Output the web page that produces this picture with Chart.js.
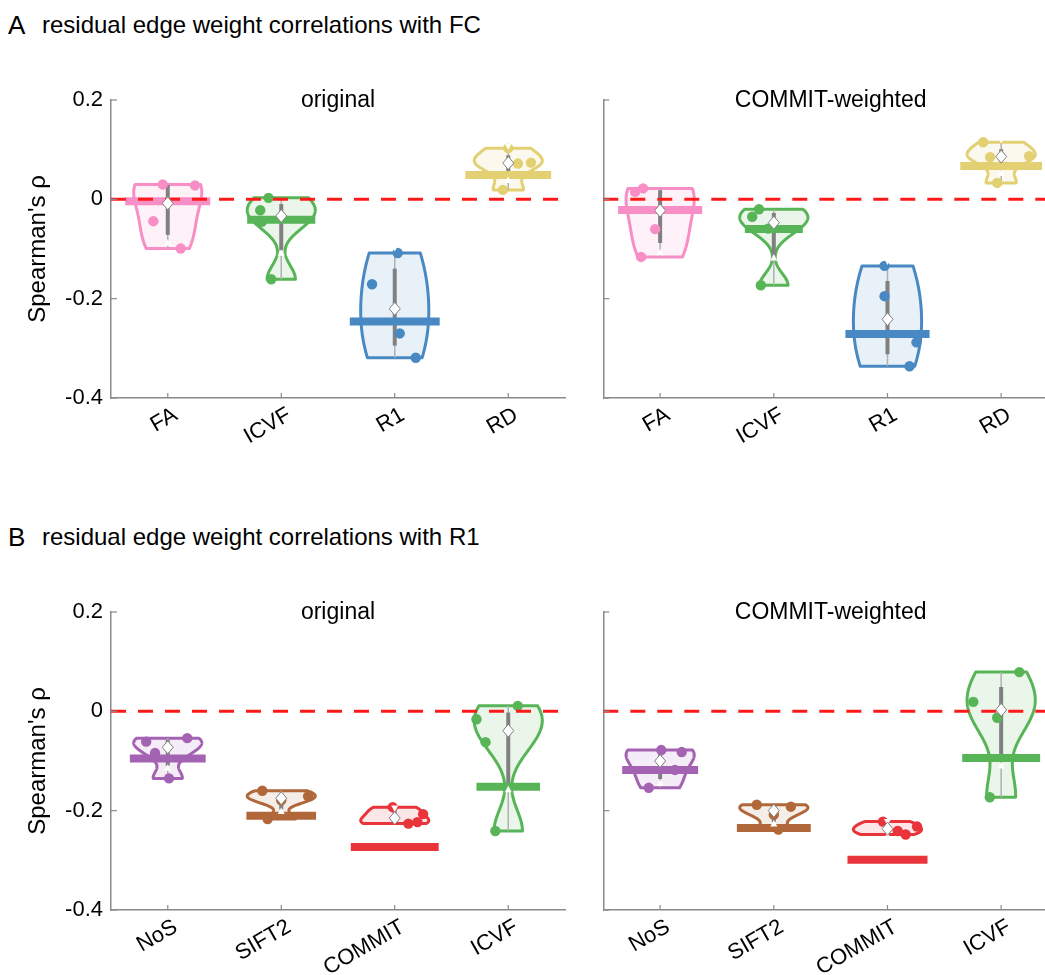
<!DOCTYPE html>
<html><head><meta charset="utf-8">
<script src="https://cdn.jsdelivr.net/npm/chart.js@4.4.1/dist/chart.umd.min.js"></script>
<style>
html,body{margin:0;padding:0;background:#fff;overflow:hidden;width:1045px;height:975px;position:relative;}
.box{position:absolute;}
.head{position:absolute;font-family:'Liberation Sans',Arial,sans-serif;color:#000;white-space:nowrap;line-height:1;}
</style></head><body>
<div class="head" style="left:8px;top:12px;font-size:26px">A</div>
<div class="head" style="left:42px;top:13px;font-size:24px">residual edge weight correlations with FC</div>
<div class="head" style="left:8px;top:524px;font-size:26px">B</div>
<div class="head" style="left:42px;top:525px;font-size:24px">residual edge weight correlations with R1</div>
<div class="box" style="left:0px;top:60px;width:590px;height:420px"><canvas id="A1"></canvas></div>
<div class="box" style="left:560px;top:60px;width:520px;height:420px"><canvas id="A2"></canvas></div>
<div class="box" style="left:0px;top:572px;width:590px;height:420px"><canvas id="B1"></canvas></div>
<div class="box" style="left:560px;top:572px;width:520px;height:420px"><canvas id="B2"></canvas></div>
<script>
// ---------------- data ----------------
const catsA = ['FA', 'ICVF', 'R1', 'RD'];
const catsB = ['NoS', 'SIFT2', 'COMMIT', 'ICVF'];
const yTicks = [-0.4, -0.2, 0, 0.2];
const panelTitles = ['original', 'COMMIT-weighted'];

// panel A, original
const A_orig_values = [[0.030, 0.028, -0.044, -0.099], [0.003, -0.022, -0.045, -0.161], [-0.108, -0.171, -0.270, -0.319], [0.103, 0.074, 0.072, 0.019]];
const A_orig_jitter = [[-0.044, 0.24, -0.127, 0.114], [-0.112, -0.185, -0.17, -0.088], [0.026, -0.2, 0.044, 0.185], [0, 0.2, 0.085, -0.047]];
const A_orig_ref = [-0.004, -0.041, -0.246, 0.049];
// panel A, COMMIT-weighted
const A_comm_values = [[0.022, 0.015, -0.060, -0.116], [-0.020, -0.035, -0.059, -0.173], [-0.134, -0.195, -0.288, -0.336], [0.115, 0.087, 0.085, 0.033]];
const A_comm_jitter = [[-0.15, -0.22, -0.044, -0.167], [-0.13, -0.19, -0.05, -0.114], [-0.026, -0.026, 0.255, 0.194], [-0.158, 0.246, -0.097, -0.035]];
const A_comm_ref = [-0.0215, -0.0595, -0.271, 0.067];
// panel B, original
const B_orig_values = [[-0.054, -0.061, -0.084, -0.135], [-0.160, -0.171, -0.179, -0.217], [-0.193, -0.207, -0.223, -0.226], [0.011, -0.016, -0.062, -0.241]];
const B_orig_jitter = [[0.172, -0.19, -0.112, 0.011], [-0.167, 0.237, 0, -0.12], [-0.018, 0.25, 0.2, 0.12], [0.084, -0.28, -0.2, -0.114]];
const B_orig_ref = [-0.095, -0.210, -0.273, -0.152];
// panel B, COMMIT-weighted
const B_comm_values = [[-0.078, -0.082, -0.118, -0.154], [-0.188, -0.192, -0.208, -0.238], [-0.222, -0.232, -0.241, -0.248], [0.079, 0.019, -0.013, -0.173]];
const B_comm_jitter = [[0.01, 0.19, 0.13, -0.1], [-0.15, 0.15, 0, 0.04], [-0.04, 0.26, 0.09, 0.16], [0.16, -0.245, -0.035, -0.1]];
const B_comm_ref = [-0.118, -0.235, -0.299, -0.094];

// ---------------- styles ----------------
const colorsA = ['#f78fc6', '#58b557', '#4889c4', '#e2d072'];
const colorsB = ['#a462b2', '#b0673a', '#e8343a', '#58b557'];
const A_orig_refSpan = [0.374, 0.30, 0.396, 0.378];
const A_comm_refSpan = [0.37, 0.255, 0.37, 0.36];
const B_orig_refSpan = [0.334, 0.307, 0.387, 0.28];
const B_comm_refSpan = [0.334, 0.325, 0.352, 0.343];
const FONT = "'Liberation Sans', Arial, sans-serif";
const AXIS_COLOR = '#8a8a8a';

// ---------------- statistics (violin = kernel density of the points) ----------------
function sorted(a) { return a.slice().sort((p, q) => p - q); }
function quant(s, p) {
  const n = s.length; const pos = p * n + 0.5;
  if (pos <= 1) return s[0]; if (pos >= n) return s[n - 1];
  const i = Math.floor(pos), f = pos - i; return s[i - 1] + (s[i] - s[i - 1]) * f;
}
function stats(vals) {
  const s = sorted(vals), n = s.length;
  const med = quant(s, 0.5), q1 = quant(s, 0.25), q3 = quant(s, 0.75), iqr = q3 - q1;
  const lo = s.find(v => v >= q1 - 1.5 * iqr), hi = s.slice().reverse().find(v => v <= q3 + 1.5 * iqr);
  const mad = quant(sorted(s.map(v => Math.abs(v - med))), 0.5);
  const h = (mad / 0.6745) * Math.pow(4 / (3 * n), 0.2);
  const ys = [], ds = []; const N = 120;
  for (let k = 0; k <= N; k++) {
    const y = s[0] + (s[n - 1] - s[0]) * k / N; let d = 0;
    for (const v of s) d += Math.exp(-0.5 * ((y - v) / h) ** 2);
    ys.push(y); ds.push(d);
  }
  const dm = Math.max(...ds);
  return { med, q1, q3, lo, hi, nLo: med - 1.58 * iqr / Math.sqrt(n), nHi: med + 1.58 * iqr / Math.sqrt(n), ys, ds: ds.map(d => d / dm) };
}
function hexA(hex, a) {
  const r = parseInt(hex.slice(1, 3), 16), g = parseInt(hex.slice(3, 5), 16), b = parseInt(hex.slice(5, 7), 16);
  return `rgba(${r},${g},${b},${a})`;
}

// ---------------- plugin ----------------
const violinPlugin = {
  id: 'violins',
  beforeDatasetsDraw(chart) {
    const o = chart.options.plugins.violins; const xs = chart.scales.x, ys = chart.scales.y, ctx = chart.ctx, ca = chart.chartArea;
    ctx.save(); ctx.beginPath(); ctx.rect(ca.left, ca.top, ca.right - ca.left, ca.bottom - ca.top); ctx.clip();
    o.groups.forEach((g, i) => {
      const st = g.st, pos = i + 1;
      ctx.beginPath();
      for (let k = 0; k < st.ys.length; k++) {
        const px = xs.getPixelForValue(pos + st.ds[k] * o.half), py = ys.getPixelForValue(st.ys[k]);
        k ? ctx.lineTo(px, py) : ctx.moveTo(px, py);
      }
      for (let k = st.ys.length - 1; k >= 0; k--) ctx.lineTo(xs.getPixelForValue(pos - st.ds[k] * o.half), ys.getPixelForValue(st.ys[k]));
      ctx.closePath();
      ctx.fillStyle = hexA(g.color, 0.12); ctx.fill();
      ctx.lineWidth = 3; ctx.lineJoin = 'round'; ctx.strokeStyle = g.color; ctx.stroke();
      const cx = xs.getPixelForValue(pos);
      ctx.beginPath(); ctx.moveTo(cx, ys.getPixelForValue(st.lo)); ctx.lineTo(cx, ys.getPixelForValue(st.hi));
      ctx.lineWidth = 1.5; ctx.strokeStyle = '#b0b0b0'; ctx.stroke();
      ctx.beginPath(); ctx.moveTo(cx, ys.getPixelForValue(st.q1)); ctx.lineTo(cx, ys.getPixelForValue(st.q3));
      ctx.lineWidth = 4; ctx.strokeStyle = '#808080'; ctx.stroke();
    });
    ctx.restore();
  },
  afterDatasetsDraw(chart) {
    const o = chart.options.plugins.violins; const xs = chart.scales.x, ys = chart.scales.y, ctx = chart.ctx;
    ctx.save();
    o.groups.forEach((g, i) => {
      const st = g.st, cx = xs.getPixelForValue(i + 1);
      ctx.fillStyle = '#ffffff';
      let y = ys.getPixelForValue(st.nLo);
      ctx.beginPath(); ctx.moveTo(cx, y - 3.5); ctx.lineTo(cx + 3.5, y + 3); ctx.lineTo(cx - 3.5, y + 3); ctx.closePath(); ctx.fill();
      y = ys.getPixelForValue(st.nHi);
      ctx.beginPath(); ctx.moveTo(cx, y + 3.5); ctx.lineTo(cx + 3.5, y - 3); ctx.lineTo(cx - 3.5, y - 3); ctx.closePath(); ctx.fill();
      y = ys.getPixelForValue(st.med);
      ctx.beginPath(); ctx.moveTo(cx, y - 6.5); ctx.lineTo(cx + 5.5, y); ctx.lineTo(cx, y + 6.5); ctx.lineTo(cx - 5.5, y); ctx.closePath();
      ctx.fill(); ctx.lineWidth = 1; ctx.strokeStyle = '#808080'; ctx.stroke();
    });
    ctx.restore();
  },
  afterDraw(chart) {
    const o = chart.options.plugins.violins; const xs = chart.scales.x, ys = chart.scales.y, ctx = chart.ctx, ca = chart.chartArea;
    ctx.save();
    ctx.strokeStyle = AXIS_COLOR; ctx.lineWidth = 1.2;
    ys.ticks.forEach(t => { const py = ys.getPixelForValue(t.value); ctx.beginPath(); ctx.moveTo(ca.left, py); ctx.lineTo(ca.left + 6, py); ctx.stroke(); });
    xs.ticks.forEach(t => { const px = xs.getPixelForValue(t.value); ctx.beginPath(); ctx.moveTo(px, ca.bottom); ctx.lineTo(px, ca.bottom - 5); ctx.stroke(); });
    ctx.fillStyle = '#000'; ctx.textAlign = 'center'; ctx.textBaseline = 'middle';
    ctx.font = `23px ${FONT}`;
    ctx.fillText(o.title, (ca.left + ca.right) / 2, ca.top + 1);
    if (o.yTitle) {
      ctx.translate(ca.left - 73, (ca.top + ca.bottom) / 2); ctx.rotate(-Math.PI / 2);
      ctx.font = `24px ${FONT}`; ctx.fillText(o.yTitle, 0, 0);
    }
    ctx.restore();
  }
};

function makeChart(id, cats, colors, values, jitter, ref, refSpan, title, isLeft) {
  const groups = values.map((v, i) => ({ color: colors[i], st: stats(v) }));
  const datasets = [];
  values.forEach((vals, i) => {
    datasets.push({ type: 'scatter', data: vals.map((v, k) => ({ x: i + 1 + jitter[i][k], y: v })),
      backgroundColor: colors[i], borderColor: colors[i], borderWidth: 0, pointRadius: 5.2, order: 3 });
  });
  ref.forEach((r, i) => {
    datasets.push({ type: 'line', data: [{ x: i + 1 - refSpan[i], y: r }, { x: i + 1 + refSpan[i], y: r }],
      borderColor: colors[i], borderWidth: 8, borderCapStyle: 'butt', pointRadius: 0, showLine: true, order: 2 });
  });
  datasets.push({ type: 'line', data: [{ x: 0.5, y: 0 }, { x: 4.5, y: 0 }], borderColor: '#ff1a1a', borderWidth: 3,
    borderDash: [15, 12], borderCapStyle: 'butt', pointRadius: 0, showLine: true, order: 1 });

  new Chart(document.getElementById(id), {
    type: 'scatter',
    data: { datasets },
    plugins: [violinPlugin],
    options: {
      responsive: true, maintainAspectRatio: false, animation: false, events: [],
      layout: { padding: { left: 0, right: isLeft ? 25 : 22, top: 40, bottom: 0 } },
      plugins: { legend: { display: false }, tooltip: { enabled: false },
        violins: { groups, half: 0.3, title, yTitle: isLeft ? "Spearman's ρ" : null } },
      scales: {
        x: { type: 'linear', min: 0.5, max: 4.5,
          afterBuildTicks: s => { s.ticks = cats.map((c, i) => ({ value: i + 1 })); },
          afterFit: s => { s.height = 82; },
          grid: { display: false, drawTicks: false },
          border: { display: true, color: AXIS_COLOR, width: 1.5 },
          ticks: { autoSkip: false, minRotation: 30, maxRotation: 30, padding: 4, labelOffset: 8,
            color: '#000', font: { family: FONT, size: 22 },
            callback: v => cats[Math.round(v) - 1] } },
        y: { type: 'linear', min: -0.4, max: 0.2,
          afterBuildTicks: s => { s.ticks = yTicks.map(v => ({ value: v })); },
          afterFit: s => { s.width = isLeft ? 111 : 43.3; },
          grid: { display: false, drawTicks: false },
          border: { display: true, color: AXIS_COLOR, width: 1.5 },
          ticks: { display: isLeft, padding: 8, color: '#000', font: { family: FONT, size: 22 },
            callback: v => (Math.abs(v) < 1e-9 ? '0' : v.toFixed(1)) } }
      }
    }
  });
}

makeChart('A1', catsA, colorsA, A_orig_values, A_orig_jitter, A_orig_ref, A_orig_refSpan, panelTitles[0], true);
makeChart('A2', catsA, colorsA, A_comm_values, A_comm_jitter, A_comm_ref, A_comm_refSpan, panelTitles[1], false);
makeChart('B1', catsB, colorsB, B_orig_values, B_orig_jitter, B_orig_ref, B_orig_refSpan, panelTitles[0], true);
makeChart('B2', catsB, colorsB, B_comm_values, B_comm_jitter, B_comm_ref, B_comm_refSpan, panelTitles[1], false);
</script>
</body></html>
